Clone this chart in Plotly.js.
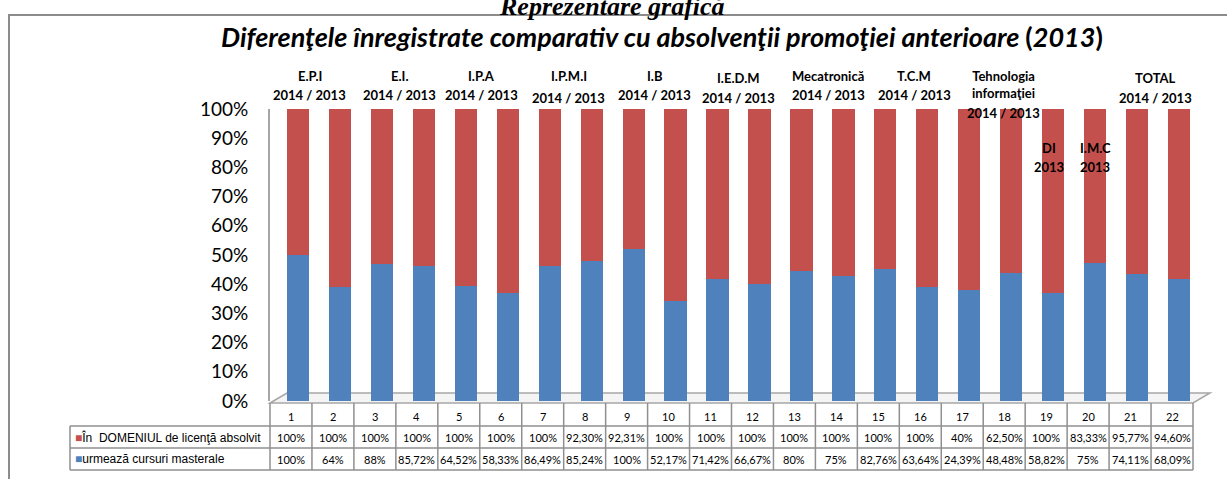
<!DOCTYPE html>
<html>
<head>
<meta charset="utf-8">
<script src="https://cdn.plot.ly/plotly-3.0.1.min.js"></script>
<style>
  html, body { margin: 0; padding: 0; background: #fff; }
  #chart { width: 1227px; height: 479px; }
</style>
</head>
<body>
<div id="chart"></div>
<script>
// 22 columns, values as printed in the data table under the chart
const categories = [1, 2, 3, 4, 5, 6, 7, 8, 9, 10, 11, 12, 13, 14, 15, 16, 17, 18, 19, 20, 21, 22];
const domeniu = [100, 100, 100, 100, 100, 100, 100, 92.30, 92.31, 100, 100, 100, 100, 100, 100, 100, 40, 62.50, 100, 83.33, 95.77, 94.60];
const masterat = [100, 64, 88, 85.72, 64.52, 58.33, 86.49, 85.24, 100, 52.17, 71.42, 66.67, 80, 75, 82.76, 63.64, 24.39, 48.48, 58.82, 75, 74.11, 68.09];
const seriesNames = ['În  DOMENIUL de licenţă absolvit', 'urmează cursuri masterale'];
const yTicks = [0, 10, 20, 30, 40, 50, 60, 70, 80, 90, 100];

// group labels written above the bars
const groupNames = ['E.P.I', 'E.I.', 'I.P.A', 'I.P.M.I', 'I.B', 'I.E.D.M', 'Mecatronică', 'T.C.M', 'Tehnologia<br>informaţiei', 'DI', 'I.M.C', 'TOTAL'];
const groupYears = ['2014 / 2013', '2014 / 2013', '2014 / 2013', '2014 / 2013', '2014 / 2013', '2014 / 2013', '2014 / 2013', '2014 / 2013', '2014 / 2013', '2013', '2013', '2014 / 2013'];
const groupBars = [[1, 2], [3, 4], [5, 6], [7, 8], [9, 10], [11, 12], [13, 14], [15, 16], [17, 18], [19], [20], [21, 22]];

const RED = '#c4504d';
const BLUE = '#4f81bd';
const GRID = '#8f8f8f';
const CALIBRI = 'Lato, "Open Sans", sans-serif';

// plot box in pixels
const L = 270, R = 1193, T = 109, B = 401;
const W = 1227, H = 479;
const colW = (R - L) / categories.length;
const shiftUnits = 7 / colW; // bars sit a little right of the table cells (3D look)
const px = (p) => (p - L) / (R - L);
const py = (p) => (B - p) / (B - T);

function pct(v) {
  return Number.isInteger(v) ? `${v}%` : `${v.toFixed(2).replace('.', ',')}%`;
}

function note(x, y, text, font, extra = {}) {
  return { xref: 'paper', yref: 'paper', x, y, text, font, showarrow: false, xanchor: 'center', yanchor: 'middle', ...extra };
}

// label placement (pixel centres of name / year lines, plus horizontal nudge)
const nameY = [76, 76, 76, 76, 76, 78, 76, 76, 84, 148, 148, 78];
const yearY = [95, 95, 95, 98, 95, 98, 95, 95, 113, 167, 167, 98];
const nudge = [-9, -3, -5, -2, 0, 0, 6, 8, 13, -4, 0, -3];

const annotations = [];
const groupFont = { family: CALIBRI, size: 13, color: '#000', weight: 700 };
groupNames.forEach((name, i) => {
  const bars = groupBars[i];
  const x = bars.reduce((a, b) => a + b, 0) / bars.length;
  annotations.push({ ...note(x, py(nameY[i]), `<b>${name}</b>`, groupFont, { xshift: nudge[i] }), xref: 'x' });
  annotations.push({ ...note(x, py(yearY[i]), `<b>${groupYears[i]}</b>`, groupFont, { xshift: nudge[i] }), xref: 'x' });
});

// titles
annotations.push(note(px(612), py(6), '<b><i>Reprezentare grafică</i></b>', { family: '"Liberation Serif", serif', size: 26, color: '#000' }));
annotations.push(note(px(662), py(37),
  '<b><i>Diferenţele înregistrate comparativ cu absolvenţii promoţiei anterioare </i>(<i>2013</i>)</b>',
  { family: CALIBRI, size: 27, color: '#000' }));

// data table below the plot
const rowTop = [403, 426, 448, 470];
const rowMid = [416, 437, 459];
const shapes = [];
const line = { color: GRID, width: 1.5 };
// chart frame
shapes.push({ type: 'rect', xref: 'paper', yref: 'paper', x0: px(9), x1: px(W + 20), y0: py(15), y1: py(H + 20), line: { color: '#8c8c8c', width: 2 }, layer: 'below' });
// 3D floor
shapes.push({
  type: 'path', xref: 'paper', yref: 'paper', layer: 'below',
  path: `M ${px(270)} ${py(403)} L ${px(287)} ${py(393)} L ${px(1210)} ${py(393)} L ${px(1193)} ${py(403)} Z`,
  fillcolor: '#f4f4f4', line: { color: '#a6a6a6', width: 1.5 },
});
for (let i = 0; i <= categories.length; i++) {
  shapes.push({ type: 'line', xref: 'paper', yref: 'paper', x0: i / categories.length, x1: i / categories.length, y0: py(rowTop[0]), y1: py(rowTop[3]), line });
}
for (let r = 1; r < rowTop.length; r++) {
  shapes.push({ type: 'line', xref: 'paper', yref: 'paper', x0: px(70), x1: 1, y0: py(rowTop[r]), y1: py(rowTop[r]), line });
}
shapes.push({ type: 'line', xref: 'paper', yref: 'paper', x0: px(70), x1: px(70), y0: py(rowTop[1]), y1: py(rowTop[3]), line });

const tableFont = { family: CALIBRI, size: 11, color: '#000' };
categories.forEach((c, i) => {
  const xc = (i + 0.5) / categories.length;
  annotations.push(note(xc, py(rowMid[0]), String(c), tableFont));
  annotations.push(note(xc, py(rowMid[1]), pct(domeniu[i]), tableFont));
  annotations.push(note(xc, py(rowMid[2]), pct(masterat[i]), tableFont));
});
[RED, BLUE].forEach((color, r) => {
  annotations.push(note(px(73), py(rowMid[r + 1]),
    `<span style="color:${color}">■</span>${seriesNames[r]}`,
    { family: '"Liberation Sans", Arial, sans-serif', size: 12, color: '#000' },
    { xanchor: 'left' }));
});

const traces = [
  { type: 'bar', name: seriesNames[1], x: categories, y: masterat, width: 0.53, marker: { color: BLUE } },
  { type: 'bar', name: seriesNames[0], x: categories, y: domeniu, width: 0.53, marker: { color: RED } },
];

Plotly.newPlot('chart', traces, {
  width: W,
  height: H,
  margin: { l: L, r: W - R, t: T, b: H - B },
  paper_bgcolor: '#fff',
  plot_bgcolor: 'rgba(0,0,0,0)',
  barmode: 'stack',
  barnorm: 'percent',
  showlegend: false,
  xaxis: {
    range: [0.5 - shiftUnits, categories.length + 0.5 - shiftUnits],
    showticklabels: false, showgrid: false, zeroline: false, showline: false,
  },
  yaxis: {
    range: [0, 100],
    tickmode: 'array',
    tickvals: yTicks,
    ticktext: yTicks.map((v) => `${v}%`),
    showgrid: false, zeroline: false,
    showline: true, linecolor: '#a6a6a6', linewidth: 2,
    ticks: 'outside', ticklen: 16, tickcolor: 'rgba(0,0,0,0)',
    tickfont: { family: CALIBRI, size: 19, color: '#000' },
  },
  shapes,
  annotations,
}, { staticPlot: true });
</script>
</body>
</html>
